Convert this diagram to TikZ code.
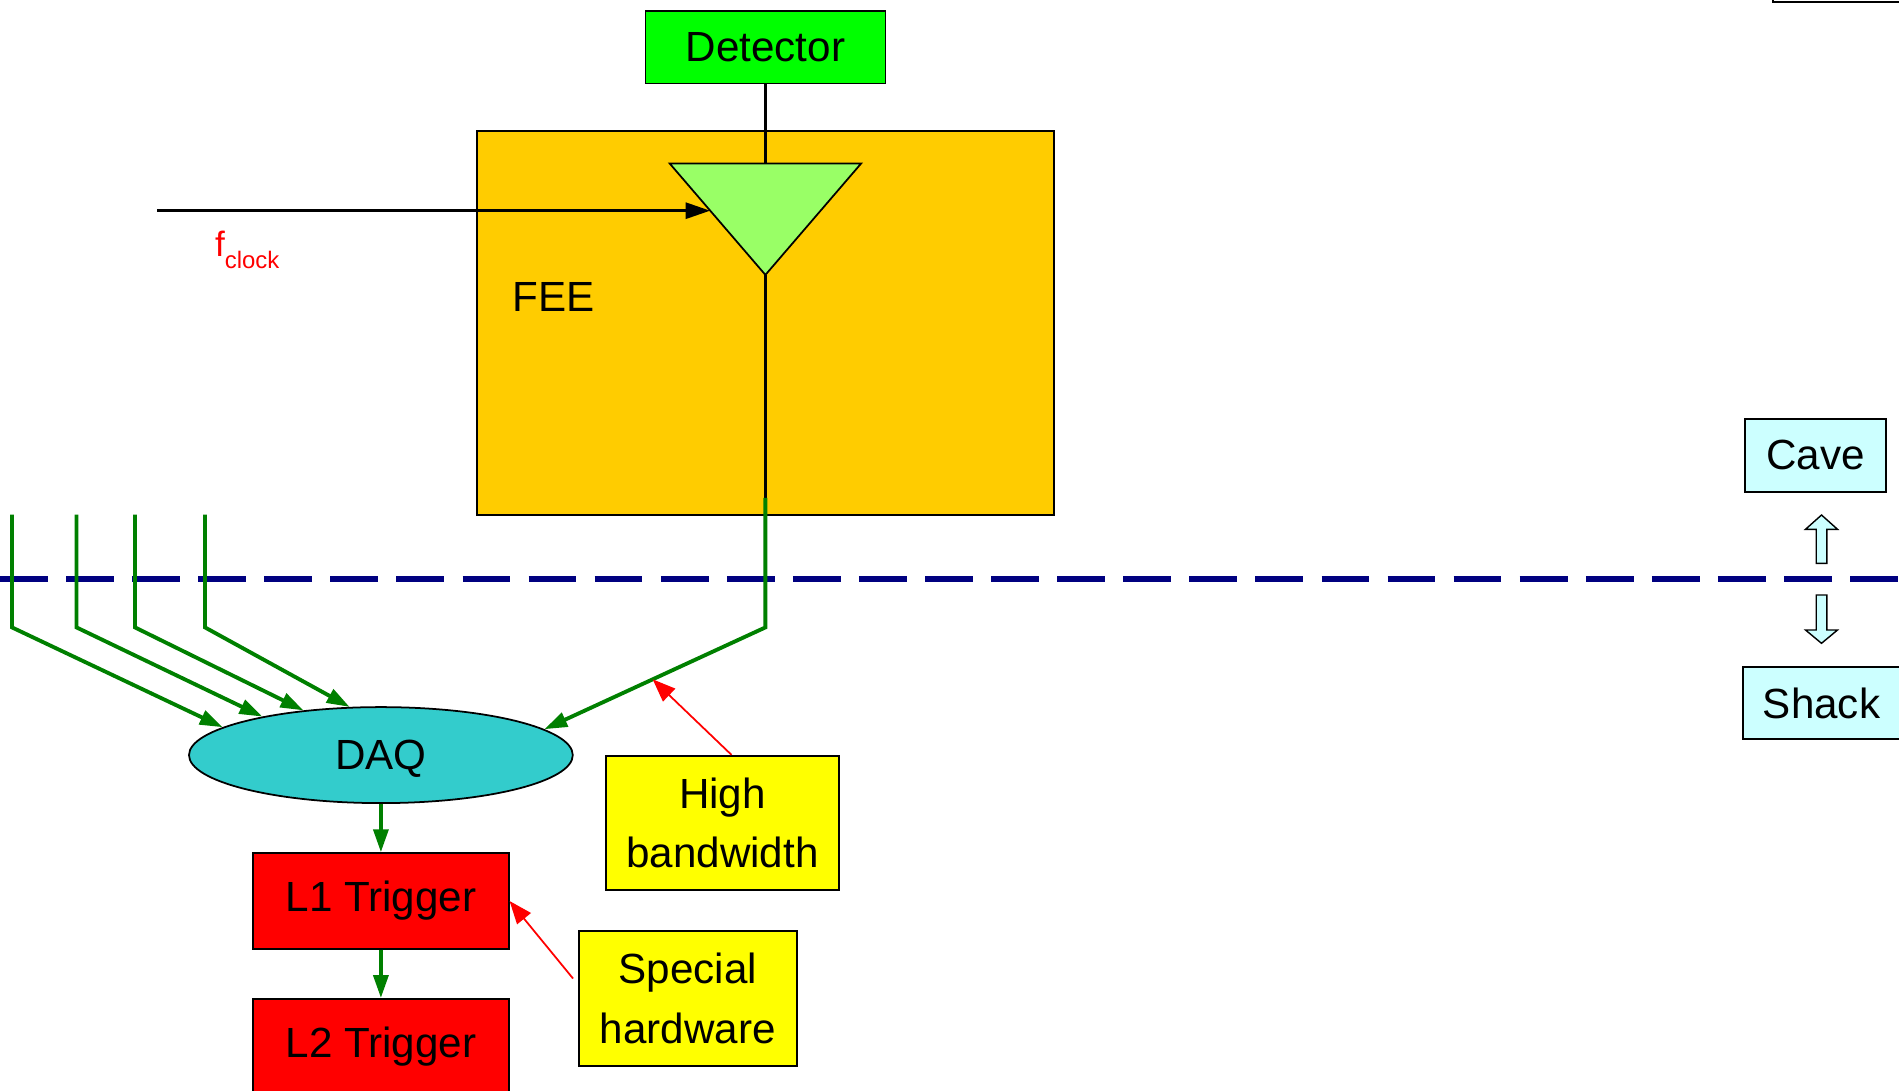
\documentclass[tikz,border=0pt]{standalone}
\usepackage{fontspec}
\setmainfont{Liberation Sans}
\usetikzlibrary{positioning,shapes.geometric,arrows.meta,calc}

\definecolor{detgreen}{RGB}{0,255,0}
\definecolor{feeorange}{RGB}{255,204,0}
\definecolor{ampgreen}{RGB}{153,255,102}
\definecolor{daqcyan}{RGB}{51,204,204}
\definecolor{trigred}{RGB}{255,0,0}
\definecolor{noteyellow}{RGB}{255,255,0}
\definecolor{placecyan}{RGB}{204,255,255}
\definecolor{linkgreen}{RGB}{0,128,0}
\definecolor{cutnavy}{RGB}{0,0,128}

\begin{document}
\begin{tikzpicture}[font=\fontsize{12}{17}\selectfont]
    \tikzstyle{block}=[rectangle, draw=black, line width=0.5pt, text centered, inner sep=0pt]
    \tikzstyle{trigger}=[block, fill=trigred, minimum width=2.556cm, minimum height=0.957cm]
    \tikzstyle{note}=[block, fill=noteyellow, minimum height=1.345cm, align=center]
    \tikzstyle{place}=[block, fill=placecyan]
    \tikzstyle{sig}=[draw=black, line width=1.05pt, >={Triangle[length=7pt,width=4.5pt]}]
    \tikzstyle{link}=[draw=linkgreen, line width=1.1pt, >={Triangle[length=6.5pt,width=4.2pt]}]
    \tikzstyle{callout}=[->, draw=red, line width=0.5pt, >={Triangle[length=6.5pt,width=5pt]}, fill=red]
    \tikzstyle{hollow}=[draw=black, line width=0.4pt, fill=placecyan]
    \tikzstyle{cut}=[draw=cutnavy, line width=1.55pt, dash pattern=on 13.6pt off 5.2pt]

    \useasboundingbox (0,0) rectangle (18.99,10.90);

    % Box cut off at the top edge
    \draw[line width=0.6pt] (17.733,10.883) rectangle (19.5,11.5);

    % Detector and front-end electronics
    \node[block, fill=detgreen, minimum width=2.4cm, minimum height=0.727cm] (detector) at (7.654,10.428) {Detector};
    \node[block, fill=feeorange, minimum width=5.765cm, minimum height=3.839cm] (fee) at (7.654,7.673) {};
    \node (feelabel) at (5.535,7.933) {FEE};

    % Amplifier
    \coordinate (ampL) at (6.697,9.265);
    \coordinate (ampR) at (8.611,9.265);
    \coordinate (amptip) at (7.654,8.151);
    \coordinate (amptop) at (7.654,9.265);
    \draw[line width=0.5pt, fill=ampgreen] (ampL) -- (ampR) -- (amptip) -- cycle;

    % Clock input
    \coordinate (clkin) at ($(ampL)!0.424!(amptip)$);
    \coordinate (clksrc) at (1.574,8.793);
    \draw[sig, line width=0.95pt, ->] (clksrc) -- (clksrc -| clkin);
    \node[text=red, anchor=base west, inner sep=0pt, font=\fontsize{10}{12}\selectfont] (fclock) at (2.144,8.332) {f\raisebox{-3.4pt}{\fontsize{6.8}{8}\selectfont clock}};

    % Cave / Shack boundary
    \coordinate (cutL) at (0,5.111);
    \coordinate (cutR) at (18.99,5.111);
    \draw[cut] (cutL) -- (cutR);

    % Readout chain
    \node[ellipse, draw=black, line width=0.5pt, fill=daqcyan, minimum width=3.838cm, minimum height=0.96cm, inner sep=0pt, text depth=0pt] (daq) at (3.809,3.349) {DAQ};
    \node[trigger, below=0.483cm of daq] (l1) {L1 Trigger};
    \node[trigger, below=0.483cm of l1] (l2) {L2 Trigger};

    % Notes
    \node[note, minimum width=2.337cm] (hibw) at (7.225,2.67) {High\\bandwidth};
    \node[note, minimum width=2.18cm] (spechw) at (6.879,0.915) {Special\\hardware};

    % Places
    \node[place, minimum width=1.405cm, minimum height=0.727cm] (cave) at (18.155,6.347) {Cave};
    \node[place, minimum width=1.574cm, minimum height=0.715cm] (shack) at (18.215,3.87) {Shack};
    \draw[hollow] (18.162,5.267) -- (18.162,5.607) -- (18.055,5.607) -- (18.215,5.75) -- (18.375,5.607) -- (18.268,5.607) -- (18.268,5.267) -- cycle;
    \draw[hollow] (18.162,4.95) -- (18.162,4.60) -- (18.055,4.60) -- (18.215,4.467) -- (18.375,4.60) -- (18.268,4.60) -- (18.268,4.95) -- cycle;

    % Signal path
    \coordinate (feeout) at (7.654,5.922);
    \coordinate (feebend) at (7.654,4.626);
    \draw[sig] (detector) -- (amptop);
    \draw[sig] (amptip) -- (feeout);
    \draw[link, ->] (feeout) -- (feebend) -- node[coordinate, pos=0.51] (bwtap) {} (daq.9);

    % Other front-end links
    \coordinate (in1) at (0.12,5.753);
    \coordinate (in2) at (0.765,5.753);
    \coordinate (in3) at (1.35,5.753);
    \coordinate (in4) at (2.05,5.753);
    \draw[link, ->] (in1) -- (in1 |- feebend) -- (daq.170);
    \draw[link, ->] (in2) -- (in2 |- feebend) -- (daq.162);
    \draw[link, ->] (in3) -- (in3 |- feebend) -- (daq.150);
    \draw[link, ->] (in4) -- (in4 |- feebend) -- (daq.123);

    % Trigger chain
    \draw[link, ->] (daq) -- (l1);
    \draw[link, ->] (l1) -- (l2);

    % Callouts
    \draw[callout] ([xshift=0.09cm]hibw.north) -- (bwtap);
    \draw[callout] ([xshift=-0.05cm,yshift=0.2cm]spechw.west) -- (l1.east);
\end{tikzpicture}
\end{document}
